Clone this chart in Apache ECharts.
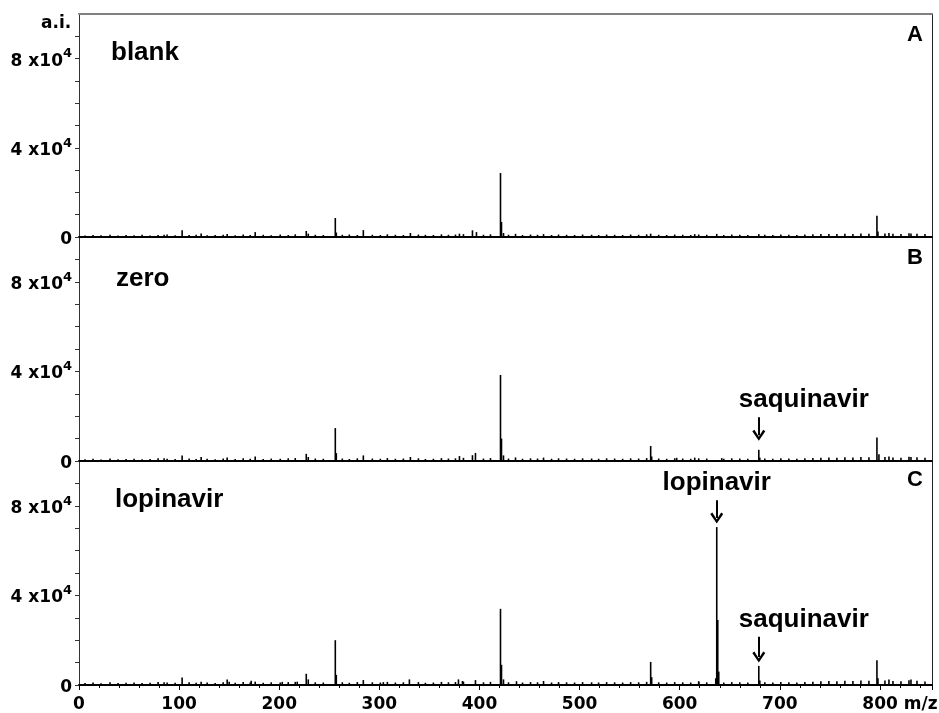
<!DOCTYPE html>
<html>
<head>
<meta charset="utf-8">
<script src="https://cdn.jsdelivr.net/npm/echarts@6.0.0/dist/echarts.min.js"></script>
<style>
html,body{margin:0;padding:0;background:#fff;}
#chart{width:939px;height:713px;}
</style>
</head>
<body>
<div id="chart"></div>
<script>
// ---------------- DATA ----------------
const panelNames = ['blank', 'zero', 'lopinavir'];
const panelLetters = ['A', 'B', 'C'];
const xTickValues = [0, 100, 200, 300, 400, 500, 600, 700, 800];
const yTickLabels = ['0', '4 x10', '8 x10'];

// main peaks [m/z, intensity]
const peaksA = [[85,1000],[103,3000],[122,1600],[148,1400],[176,2200],[227,2700],[229,1500],[256,8500],[257,2000],[284,3100],[331,1800],[380,1500],[393,3000],[397,2200],[421,28700],[422,6700],[424,1800],[436,1400],[464,1300],[571,1500],[615,1300],[637,1400],[679,1300],[797,9500],[798,2500],[809,1800],[831,1600]];
const peaksB = [[85,1200],[103,2500],[122,1800],[148,1600],[176,2000],[227,3200],[229,1800],[256,14700],[257,3500],[284,2500],[331,1800],[380,2200],[393,2600],[396,3600],[421,38400],[422,10000],[424,2500],[436,1600],[464,1500],[571,6700],[572,2000],[597,1400],[615,1500],[642,1300],[679,5000],[680,1500],[797,10500],[799,3000],[809,2000],[831,1800]];
const peaksC = [[85,1200],[103,3400],[122,1500],[148,2500],[150,1500],[172,1900],[176,1500],[203,1400],[218,1500],[227,5000],[229,2500],[256,20000],[257,4500],[284,2200],[304,1300],[330,2500],[379,2500],[383,1800],[396,2200],[421,34000],[422,9000],[424,2500],[437,1700],[464,1800],[571,10300],[572,3500],[619,1700],[636,3000],[637,70500],[638,29000],[639,6000],[679,8500],[680,2000],[797,11000],[798,3000],[809,2500],[831,2500]];

// baseline noise positions and heights
const noiseMz = [6,14,22,31,39,47,55,63,71,79,88,96,110,117,128,136,144,156,164,171,184,192,201,209,216,236,244,263,270,278,293,301,308,316,324,339,346,354,362,369,376,384,404,411,429,443,451,458,472,479,487,495,503,512,519,527,535,543,551,559,567,579,587,595,603,611,619,627,644,652,660,668,685,693,701,709,717,725,733,741,749,757,765,773,781,789,805,813,821,829,837,845];
const noiseA = [700,900,800,1000,700,900,800,1000,700,900,
  1100,800,900,1000,800,900,1000,800,1100,900,
  1000,800,1100,900,1200,1000,900,1000,1100,900,
  1000,900,1200,1000,900,1100,1000,900,1200,1000,
  1100,1300,1000,1200,1000,900,1100,1000,900,1100,
  1000,900,1100,1000,900,1100,1000,900,1100,1000,
  1200,1000,900,1100,1000,900,1100,1000,900,1100,
  1000,900,1000,900,1100,1000,900,1100,1200,1300,
  1400,1300,1500,1400,1600,1500,1600,1500,1400,1700,
  1500,1300];
const noiseB = [800,1000,700,1100,800,900,1000,800,900,1200,
  1000,900,1100,900,1000,800,1100,900,1200,1000,
  900,1100,1000,1200,1300,1100,1000,1100,900,1200,
  1100,1000,1300,1000,1100,1200,900,1000,1300,1100,
  1200,1400,1100,1300,1100,1000,1200,1100,1000,1200,
  1100,1000,1200,1100,1000,1200,1100,1000,1200,1100,
  1300,1100,1000,1200,1100,1000,1200,1100,1000,1200,
  1100,1000,1100,1000,1200,1100,1000,1200,1300,1500,
  1600,1500,1700,1600,1800,1700,1800,1600,1500,1900,
  1700,1400];
const noiseC = [900,1100,800,1200,900,1000,1100,900,1000,1300,
  1100,1000,1200,1000,1100,900,1200,1000,1300,1100,
  1000,1200,1100,1300,1400,1200,1100,1200,1000,1300,
  1200,1100,1400,1100,1200,1300,1000,1100,1400,1200,
  1300,1500,1200,1400,1200,1100,1300,1200,1100,1300,
  1200,1100,1300,1200,1100,1300,1200,1100,1300,1200,
  1400,1200,1100,1300,1200,1100,1300,1200,1100,1300,
  1200,1100,1200,1100,1300,1200,1100,1300,1500,1700,
  1800,1700,1900,1800,2000,1900,2000,1800,1700,2100,
  1900,1600];

// annotations (panel index, text, m/z, arrow top intensity, arrow tip intensity)
const annotPanel = [1, 2, 2];
const annotText = ['saquinavir', 'lopinavir', 'saquinavir'];
const annotMz = [679, 637, 679];
const annotTail = [19500, 82500, 21500];
const annotTip = [11500, 74500, 12500];

// ---------------- STYLE / LAYOUT ----------------
const XMAX = 852, YMAX = 100000;
const AXIS_FONT = 'DejaVu Sans';
const TEXT_FONT = 'Liberation Sans';
const gridBoxes = [{top:14, height:223}, {top:237, height:224}, {top:461, height:224}];
const chevron = 'path://M5,0 L10,8 L8.4,9.2 L5,3.4 L1.6,9.2 L0,8 Z';

const peaks = [peaksA, peaksB, peaksC];
const noises = [noiseA, noiseB, noiseC];

const grid = gridBoxes.map(g => ({left:79, right:7, top:g.top, height:g.height,
  containLabel:false, outerBoundsMode:'none'}));

const xAxis = [0,1,2].map(i => ({
  type:'value', gridIndex:i, min:0, max:XMAX, interval:100, position:'bottom',
  axisLine:{show:true, onZero:false, lineStyle:{color:'#000', width:2}},
  axisTick:{show:i===2, length:5, lineStyle:{color:'#000', width:1}},
  minorTick:{show:i===2, splitNumber:5, length:3, lineStyle:{color:'#000', width:1}},
  splitLine:{show:false}, minorSplitLine:{show:false},
  axisLabel:{
    show:i===2, showMaxLabel:false, margin:11, hideOverlap:false,
    formatter: v => xTickValues.indexOf(v) < 0 ? '' : (v === 800 ? '{pad|}{n|800} m/z' : '{n|' + v + '}'),
    color:'#000', fontFamily:AXIS_FONT, fontWeight:'bold', fontSize:17,
    rich:{
      n:{fontFamily:AXIS_FONT, fontWeight:'bold', fontSize:17, color:'#000'},
      pad:{width:40}
    }
  }
}));
xAxis.push({
  type:'value', gridIndex:0, min:0, max:XMAX, position:'top',
  axisLine:{show:true, onZero:false, lineStyle:{color:'#808080', width:2}},
  axisTick:{show:false}, axisLabel:{show:false}, splitLine:{show:false}
});

const yAxis = [0,1,2].map(i => ({
  type:'value', gridIndex:i, min:0, max:YMAX, interval:10000, position:'left',
  axisLine:{show:true, onZero:false, lineStyle:{color:'#333', width:1}},
  axisTick:{show:true, length:4, lineStyle:{color:'#333', width:1}},
  splitLine:{show:false},
  axisLabel:{
    showMaxLabel:false, margin:7,
    formatter: v => {
      if (v === 0) return '{b|' + yTickLabels[0] + '}';
      if (v === 40000) return '{b|' + yTickLabels[1] + '}{s|4}';
      if (v === 80000) return '{b|' + yTickLabels[2] + '}{s|4}';
      return '';
    },
    rich:{
      b:{fontFamily:AXIS_FONT, fontWeight:'bold', fontSize:17, color:'#000', lineHeight:22, verticalAlign:'bottom'},
      s:{fontFamily:AXIS_FONT, fontWeight:'bold', fontSize:13, color:'#000', lineHeight:13, verticalAlign:'top'}
    }
  }
}));
[0,1,2].forEach(i => yAxis.push({
  type:'value', gridIndex:i, min:0, max:YMAX, position:'right',
  axisLine:{show:true, onZero:false, lineStyle:{color:'#222', width:1}},
  axisTick:{show:false}, axisLabel:{show:false}, splitLine:{show:false}
}));

const series = [0,1,2].map(i => {
  const data = noiseMz.map((m, k) => [m, noises[i][k]]).concat(peaks[i]);
  const mp = [], ml = [];
  annotPanel.forEach((p, k) => {
    if (p !== i) return;
    mp.push({
      coord:[annotMz[k], annotTail[k]], value:annotText[k],
      label:{offset:[annotText[k] === 'saquinavir' ? 45 : 0, 0]}
    });
    ml.push([{coord:[annotMz[k], annotTail[k]]}, {coord:[annotMz[k], annotTip[k]]}]);
  });
  return {
    type:'bar', xAxisIndex:i, yAxisIndex:i, data:data, barWidth:1.6,
    itemStyle:{color:'#000'}, silent:true, large:false,
    markPoint: mp.length ? {
      symbol:'circle', symbolSize:1, itemStyle:{color:'rgba(0,0,0,0)'}, silent:true,
      label:{show:true, position:'top', distance:4, formatter: p => p.value,
        fontFamily:TEXT_FONT, fontWeight:'bold', fontSize:26, color:'#000'},
      data:mp
    } : undefined,
    markLine: ml.length ? {
      silent:true, symbol:['none', chevron], symbolSize:[13, 11],
      lineStyle:{color:'#000', width:2, type:'solid'},
      label:{show:false}, data:ml
    } : undefined
  };
});

const titleTop = [40, 266, 487];
const titleLeft = [111, 116, 115];
const letterTop = [24, 247, 469];
const title = [{
  text:'a.i.', left:41, top:15, padding:0,
  textStyle:{fontFamily:AXIS_FONT, fontWeight:'bold', fontSize:17, color:'#000'}
}];
panelNames.forEach((n, i) => {
  title.push({text:n, left:titleLeft[i], top:titleTop[i], padding:0,
    textStyle:{fontFamily:TEXT_FONT, fontWeight:'bold', fontSize:26, color:'#000'}});
  title.push({text:panelLetters[i], right:16, top:letterTop[i], padding:0,
    textStyle:{fontFamily:TEXT_FONT, fontWeight:'bold', fontSize:22, color:'#000'}});
});

const chart = echarts.init(document.getElementById('chart'), null, {renderer:'canvas'});
chart.setOption({
  animation:false, backgroundColor:'#fff',
  title:title, grid:grid, xAxis:xAxis, yAxis:yAxis, series:series
});
</script>
</body>
</html>
